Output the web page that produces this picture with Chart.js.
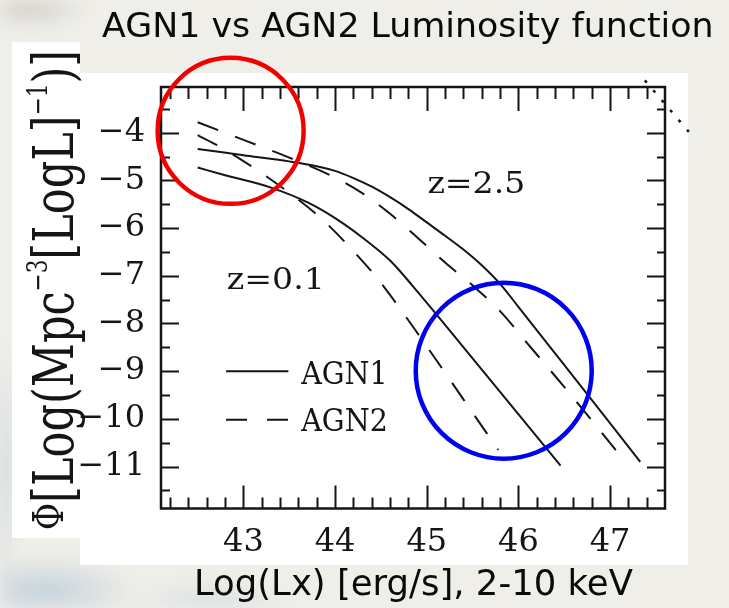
<!DOCTYPE html>
<html>
<head>
<meta charset="utf-8">
<title>AGN1 vs AGN2 Luminosity function</title>
<script src="https://cdn.jsdelivr.net/npm/chart.js@4.4.1/dist/chart.umd.min.js"></script>
<style>
  html, body { margin: 0; padding: 0; }
  body { width: 729px; height: 608px; overflow: hidden; background: #efeee9; position: relative; }
  #haze {
    position: absolute; inset: 0; filter: blur(7px);
    background:
      radial-gradient(ellipse 95px 38px at 45px 592px, rgba(160,188,208,0.55), rgba(160,188,208,0) 100%),
      radial-gradient(ellipse 80px 26px at 210px 604px, rgba(175,198,215,0.35), rgba(175,198,215,0) 100%),
      radial-gradient(ellipse 12px 130px at 4px 470px, rgba(170,195,212,0.55), rgba(170,195,212,0) 100%),
      radial-gradient(ellipse 60px 22px at 30px 8px, rgba(140,132,122,0.28), rgba(140,132,122,0) 100%);
  }
  .paper { position: absolute; background: #fff; }
  #strip { left: 12px; top: 42px; width: 68px; height: 496px; }
  #sheet { left: 80px; top: 73px; width: 608px; height: 492px; }
  canvas { position: absolute; left: 0; top: 0; }
</style>
</head>
<body>
<div id="haze"></div>
<div class="paper" id="strip"></div>
<div class="paper" id="sheet"></div>
<canvas id="lf" width="729" height="608"></canvas>
<script>
// Axis ticks
const xTickValues = [43, 44, 45, 46, 47];
const xTickLabels = ['43', '44', '45', '46', '47'];
const yTickValues = [-4, -5, -6, -7, -8, -9, -10, -11];
const yTickLabels = ['\u22124', '\u22125', '\u22126', '\u22127', '\u22128', '\u22129', '\u221210', '\u221211'];

// Luminosity functions: [log Lx, log Phi]
const agn1HighZ = [
  [42.5, -4.34], [43.0, -4.47], [43.5, -4.60], [43.8, -4.70], [44.0, -4.80],
  [44.2, -4.95], [44.4, -5.13], [44.6, -5.35], [44.8, -5.60], [45.0, -5.88],
  [45.2, -6.16], [45.4, -6.45], [45.6, -6.78], [45.8, -7.17], [46.0, -7.65],
  [46.5, -8.87], [47.33, -10.90]
];
const agn2HighZ = [
  [42.5, -3.78], [43.0, -4.15], [43.5, -4.52], [44.0, -4.94], [44.3, -5.27],
  [44.6, -5.70], [44.9, -6.20], [45.2, -6.72], [45.5, -7.20], [45.8, -7.74],
  [46.1, -8.42], [46.5, -9.33], [47.15, -10.86]
];
const agn1LowZ = [
  [42.5, -4.73], [42.8, -4.89], [43.3, -5.15], [43.7, -5.46], [44.0, -5.79],
  [44.3, -6.20], [44.6, -6.68], [44.85, -7.22], [45.2, -8.03], [46.46, -10.98]
];
const agn2LowZ = [
  [42.5, -4.05], [42.75, -4.30], [43.1, -4.72], [43.5, -5.26], [43.85, -5.80],
  [44.15, -6.38], [44.45, -7.03], [44.75, -7.80], [45.0, -8.48], [45.25, -9.17],
  [45.5, -9.87], [45.78, -10.65]
];
// dotted curve entering from the neighbouring panel
const edgeDots = [[47.38, -2.90], [47.86, -3.98]];

// Labels placed in data units (left of text, baseline)
const textMarks = [
  { text: 'z=2.5', x: 45.02, y: -5.27, width: 95, size: 29 },
  { text: 'z=0.1', x: 42.83, y: -7.28, width: 93, size: 29 },
  { text: 'AGN1', x: 43.62, y: -9.26, width: 84, size: 31 },
  { text: 'AGN2', x: 43.62, y: -10.26, width: 85, size: 31 }
];
const legendSamples = [
  { x0: 42.81, x1: 43.49, y: -9.00, dash: [] },
  { x0: 42.81, x1: 43.51, y: -10.02, dash: [21, 20] }
];
// highlight rings: centre in data units, radius in px
const rings = [
  { x: 42.86, y: -3.96, r: 73, color: '#f20000' },
  { x: 45.84, y: -8.99, r: 88, color: '#0000f0' }
];

const INK = '#151515';
const SERIF = '"DejaVu Serif", "Liberation Serif", serif';
const SANS = '"DejaVu Sans", "Noto Sans", sans-serif';

function toPoints(pairs) { return pairs.map(([x, y]) => ({ x, y })); }

function fitText(ctx, str, left, baseline, width, font) {
  ctx.font = font;
  const m = ctx.measureText(str);
  const ink = m.actualBoundingBoxLeft + m.actualBoundingBoxRight;
  const s = width / ink;
  ctx.save();
  ctx.translate(left + m.actualBoundingBoxLeft * s, baseline);
  ctx.scale(s, 1);
  ctx.textAlign = 'left';
  ctx.textBaseline = 'alphabetic';
  ctx.fillText(str, 0, 0);
  ctx.restore();
}

function drawYTitle(ctx) {
  const parts = [
    { t: '\u03A6', size: 43, base: -10 },
    { t: '[Log(Mpc', size: 56, base: 0 },
    { t: '\u22123', size: 28, base: -26 },
    { t: '[LogL]', size: 56, base: 0 },
    { t: '\u22121', size: 28, base: -26 },
    { t: ')]', size: 56, base: 0 }
  ];
  let total = 0;
  parts.forEach(p => {
    ctx.font = p.size + 'px ' + SERIF;
    p.w = ctx.measureText(p.t).width;
    total += p.w;
  });
  const sx = 480 / total;
  ctx.save();
  ctx.translate(73, 530);
  ctx.rotate(-Math.PI / 2);
  ctx.scale(sx, 1);
  ctx.fillStyle = INK;
  ctx.textAlign = 'left';
  ctx.textBaseline = 'alphabetic';
  let pos = 0;
  parts.forEach(p => {
    ctx.font = p.size + 'px ' + SERIF;
    ctx.fillText(p.t, pos, p.base);
    pos += p.w;
  });
  ctx.restore();
}

const framePlugin = {
  id: 'frame',
  afterDatasetsDraw(chart) {
    const { ctx, chartArea: a, scales: { x, y } } = chart;
    ctx.save();
    ctx.strokeStyle = INK;
    ctx.lineCap = 'butt';

    // tick marks on all four sides, pointing inward
    ctx.lineWidth = 2;
    ctx.beginPath();
    for (let k = 0; k <= 26; k++) {
      const v = 42.2 + k * 0.2;
      const major = Math.abs(v - Math.round(v)) < 1e-6;
      const px = Math.round(x.getPixelForValue(v)) + 0.5;
      ctx.moveTo(px, a.bottom); ctx.lineTo(px, a.bottom - (major ? 23 : 11));
      ctx.moveTo(px, a.top); ctx.lineTo(px, a.top + (major ? 24 : 12));
    }
    for (let k = 0; k <= 16; k++) {
      const v = -3.5 - k * 0.5;
      const major = Math.abs(v - Math.round(v)) < 1e-6;
      const py = Math.round(y.getPixelForValue(v)) + 0.5;
      ctx.moveTo(a.left, py); ctx.lineTo(a.left + (major ? 18 : 9), py);
      ctx.moveTo(a.right, py); ctx.lineTo(a.right - (major ? 18 : 8), py);
    }
    ctx.stroke();

    // frame
    ctx.lineWidth = 2.5;
    ctx.strokeRect(a.left, a.top, a.right - a.left, a.bottom - a.top);

    // legend samples
    ctx.lineWidth = 2;
    legendSamples.forEach(s => {
      ctx.setLineDash(s.dash);
      ctx.beginPath();
      const py = y.getPixelForValue(s.y);
      ctx.moveTo(x.getPixelForValue(s.x0), py);
      ctx.lineTo(x.getPixelForValue(s.x1), py);
      ctx.stroke();
    });
    ctx.setLineDash([]);

    // in-panel labels
    ctx.fillStyle = INK;
    textMarks.forEach(m => {
      fitText(ctx, m.text, x.getPixelForValue(m.x), y.getPixelForValue(m.y), m.width, m.size + 'px ' + SERIF);
    });

    // highlight rings
    ctx.lineWidth = 4.5;
    rings.forEach(r => {
      ctx.strokeStyle = r.color;
      ctx.beginPath();
      ctx.arc(x.getPixelForValue(r.x), y.getPixelForValue(r.y), r.r, 0, Math.PI * 2);
      ctx.stroke();
    });
    ctx.restore();
  },
  afterDraw(chart) {
    const ctx = chart.ctx;
    drawYTitle(ctx);
    ctx.save();
    ctx.fillStyle = '#0a0a0a';
    fitText(ctx, 'AGN1 vs AGN2 Luminosity function', 102, 37, 609, '34px ' + SANS);
    fitText(ctx, 'Log(Lx) [erg/s], 2-10 keV', 197, 595, 436, '35px ' + SANS);
    ctx.restore();
  }
};

const curveStyle = {
  borderColor: INK,
  borderWidth: 2,
  pointRadius: 0,
  fill: false,
  cubicInterpolationMode: 'monotone'
};

new Chart(document.getElementById('lf'), {
  type: 'line',
  data: {
    datasets: [
      Object.assign({ label: 'AGN1 z=2.5', data: toPoints(agn1HighZ) }, curveStyle),
      Object.assign({ label: 'AGN2 z=2.5', data: toPoints(agn2HighZ), borderDash: [22, 18] }, curveStyle),
      Object.assign({ label: 'AGN1 z=0.1', data: toPoints(agn1LowZ) }, curveStyle),
      Object.assign({ label: 'AGN2 z=0.1', data: toPoints(agn2LowZ), borderDash: [22, 18] }, curveStyle),
      Object.assign({ label: 'edge', data: toPoints(edgeDots), borderDash: [3, 10], clip: false }, curveStyle, { borderWidth: 2.5 })
    ]
  },
  options: {
    responsive: false,
    animation: false,
    devicePixelRatio: 1,
    events: [],
    layout: { padding: { left: 0, right: 64, top: 87, bottom: 0 } },
    plugins: { legend: { display: false }, tooltip: { enabled: false }, title: { display: false } },
    scales: {
      x: {
        type: 'linear', min: 42.1, max: 47.6,
        grid: { display: false, drawTicks: false },
        border: { display: false },
        afterBuildTicks: s => { s.ticks = xTickValues.map(v => ({ value: v })); },
        afterFit: s => { s.height = 99.5; },
        ticks: {
          autoSkip: false, maxRotation: 0, padding: 15, color: INK,
          font: { family: SERIF, size: 32 },
          callback: (v, i) => xTickLabels[i]
        }
      },
      y: {
        type: 'linear', min: -11.88, max: -3.04,
        grid: { display: false, drawTicks: false },
        border: { display: false },
        afterBuildTicks: s => { s.ticks = yTickValues.map(v => ({ value: v })); },
        afterFit: s => { s.width = 161; },
        ticks: {
          autoSkip: false, padding: 16, color: INK,
          font: { family: SERIF, size: 32 },
          callback: (v, i) => yTickLabels[i]
        }
      }
    }
  },
  plugins: [framePlugin]
});
</script>
</body>
</html>
